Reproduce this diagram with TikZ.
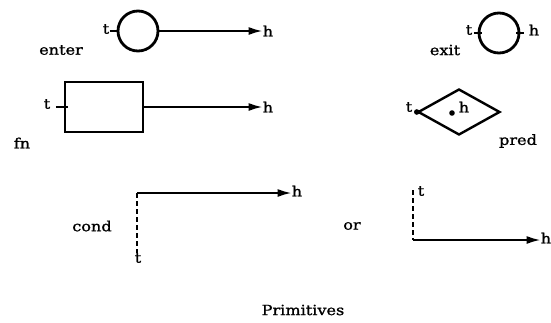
\documentclass[tikz,border=0pt]{standalone}
\usepackage{fontspec}
\setmainfont{DejaVu Serif}[FakeStretch=1.15,FakeBold=1.2]
\usetikzlibrary{arrows.meta,shapes.geometric}

\begin{document}
\begin{tikzpicture}[
  x=1pt, y=-1pt,
  font=\fontsize{14}{16}\selectfont,
  lbl/.style={inner sep=0pt},
  ring/.style={draw, circle, line width=2.8pt, minimum size=40pt, inner sep=0pt},
  fnbox/.style={draw, rectangle, line width=2.4pt, minimum width=78pt, minimum height=50pt, inner sep=0pt},
  predbox/.style={draw, diamond, line width=2.4pt, minimum width=82pt, minimum height=46pt, inner sep=0pt},
  arr/.style={-{Latex[length=14pt,width=8pt]}, line width=2pt},
  tick/.style={line width=1.6pt},
  dash line/.style={line width=1.8pt, dash pattern=on 5pt off 3pt}
]
\useasboundingbox (0,0) rectangle (551,322);

% enter
\node[ring] (enter) at (138,31) {};
\node[lbl] (entert) at (106,29) {t};
\node[lbl] (enterh) at (268,31) {h};
\node[lbl] (enterlbl) at (61,50) {enter};
\draw[tick] ([xshift=-7pt]enter.west) -- ([xshift=2pt]enter.west);
\draw[arr] (enter.east) -- (enter.east -| enterh.west);

% exit
\node[ring] (exit) at (499,33) {};
\node[lbl] (exitt) at (469,30) {t};
\node[lbl] (exith) at (534,30) {h};
\node[lbl] (exitlbl) at (445,50) {exit};
\draw[tick] ([xshift=-4pt]exit.west) -- ([xshift=4pt]exit.west);
\draw[tick] ([xshift=-4pt]exit.east) -- ([xshift=4pt]exit.east);

% fn
\node[fnbox] (fn) at (104,107) {};
\node[lbl] (fnt) at (47,104) {t};
\node[lbl] (fnh) at (268,107) {h};
\node[lbl] (fnlbl) at (22,143) {fn};
\draw[tick] ([xshift=-8pt]fn.west) -- ([xshift=4pt]fn.west);
\draw[arr] (fn.east) -- (fn.east -| fnh.west);

% pred
\node[predbox] (pred) at (459,112) {};
\node[lbl] (predt) at (409,107) {t};
\node[lbl] (predh) at (464,107) {h};
\node[lbl] (predlbl) at (518,141) {pred};
\coordinate (preddot) at (452,113);
\fill (pred.west) circle (2.8);
\fill (preddot) circle (2.8);

% cond
\coordinate (condc) at (137,193);
\node[lbl] (condh) at (297,191) {h};
\node[lbl] (condt) at (138,258) {t};
\node[lbl] (condlbl) at (92,226) {cond};
\draw[dash line] (condc) -- (condc |- condt.north);
\draw[arr] (condc) -- (condc -| condh.west);

% or
\node[lbl] (orlbl) at (352,226) {or};
\coordinate (ortop) at (413,190);
\coordinate (orc) at (413,240);
\node[lbl] (ort) at (421,191) {t};
\node[lbl] (orh) at (546,238) {h};
\draw[dash line] (ortop) -- (orc);
\draw[arr] (orc) -- (orc -| orh.west);

\node[lbl] (title) at (303,310) {Primitives};
\end{tikzpicture}
\end{document}
